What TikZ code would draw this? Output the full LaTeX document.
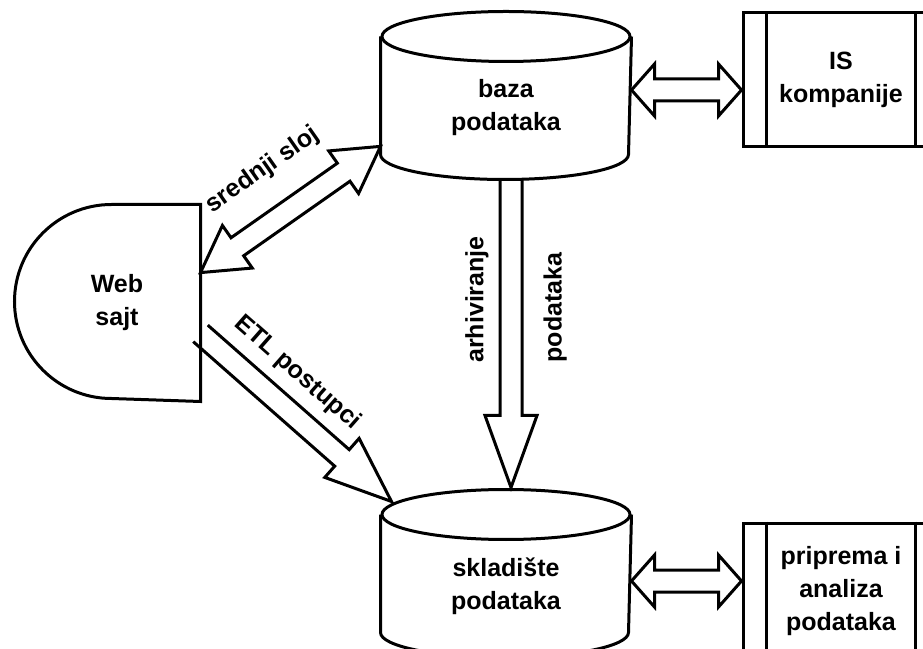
\documentclass[tikz,border=0pt]{standalone}
\usepackage{fontspec}
\setmainfont{Liberation Sans}
\usetikzlibrary{calc,
                positioning}

\begin{document}
\begin{tikzpicture}[
            x = 1pt, y = 1pt,
            line width = 3pt,
            every node/.style = {font=\fontsize{25}{33}\selectfont\bfseries,
                    align=center, inner sep=0pt},
            dbase/.style = {minimum width=248pt, minimum height=140pt},
            subproc/.style = {draw, minimum width=196pt, minimum height=134pt},
            hollow/.style = {line join=miter, to path={
                    let \p1=($(\tikztotarget)!#1!(\tikztostart)$) in
                    ($(\tikztostart)!11pt!90:(\tikztotarget)$)
                    -- ($(\p1)!11pt!90:(\tikztotarget)$)
                    -- ($(\p1)!26pt!90:(\tikztotarget)$)
                    -- (\tikztotarget)
                    -- ($(\p1)!26pt!-90:(\tikztotarget)$)
                    -- ($(\p1)!11pt!-90:(\tikztotarget)$)
                    -- ($(\tikztostart)!11pt!-90:(\tikztotarget)$)}},
            dhollow/.style = {line join=miter, to path={
                    let \p1=($(\tikztostart)!#1!(\tikztotarget)$),
                        \p2=($(\tikztotarget)!#1!(\tikztostart)$) in
                    (\tikztostart)
                    -- ($(\p1)!26pt!90:(\tikztotarget)$)
                    -- ($(\p1)!11pt!90:(\tikztotarget)$)
                    -- ($(\p2)!11pt!90:(\tikztotarget)$)
                    -- ($(\p2)!26pt!90:(\tikztotarget)$)
                    -- (\tikztotarget)
                    -- ($(\p2)!26pt!-90:(\tikztotarget)$)
                    -- ($(\p2)!11pt!-90:(\tikztotarget)$)
                    -- ($(\p1)!11pt!-90:(\tikztotarget)$)
                    -- ($(\p1)!26pt!-90:(\tikztotarget)$)
                    -- cycle}}]

        \useasboundingbox (0,0) rectangle (923,648);

        \node [dbase] (baza) at (506,540) {baza\\podataka};
        \node [dbase,
            below=335pt of baza]    (sklad) {skladište\\podataka};
        \node [subproc,
            right=110pt of baza, yshift=28pt]   (IS) {IS\\kompanije};
        \node [subproc, minimum height=136pt,
            right=110pt of sklad, yshift=-5pt]  (prip) {priprema i\\analiza\\podataka};
        \node [minimum width=164pt, minimum height=194pt] (web) at (117,345) {Web\\sajt};

        % shapes
        \foreach \n in {baza, sklad} {
            \draw (\n.north) ellipse [x radius=124, y radius=25];
            \draw (\n.north west) -- ([yshift=25pt]\n.south west)
                arc [start angle=180, end angle=360, x radius=124, y radius=25]
                -- (\n.north east);
        }
        \foreach \n in {IS, prip} {
            \draw ([xshift=25pt]\n.north west) -- ([xshift=25pt]\n.south west)
                  ([xshift=-25pt]\n.north east) -- ([xshift=-25pt]\n.south east);
        }
        \draw (web.north east) -- ++(-89,0)
            arc [start angle=90, end angle=270, radius=97]
            -- (web.south east) -- cycle;

        %% arrows
        \draw [dhollow=23pt] ([yshift=18pt]baza.east) to ([yshift=-10pt]IS.west);
        \draw [dhollow=23pt] ([yshift=5pt]sklad.east) to ([yshift=10pt]prip.west);
        \draw [dhollow=45pt] (web.20) to (baza.197);
        \draw [hollow=66pt] (web.-20) to ([xshift=11pt, yshift=13pt]sklad.north west);
        \draw [hollow=72pt] ([xshift=5pt]baza.south) to ([xshift=5pt, yshift=27pt]sklad.north);

        % labels
        \path (web.20) -- (baza.197)
            node [midway, sloped, above=35pt] {srednji sloj};
        \path (web.-20) -- ([xshift=11pt, yshift=13pt]sklad.north west)
            node [pos=.39, sloped, above=21pt] {ETL postupci};
        \node [rotate=90, anchor=south] (arh) at ($(baza.south)+(-16,-120)$) {arhiviranje};
        \node [rotate=90, anchor=north] (pod) at ($(baza.south)+(36,-128)$) {podataka};
    \end{tikzpicture}
\end{document}
